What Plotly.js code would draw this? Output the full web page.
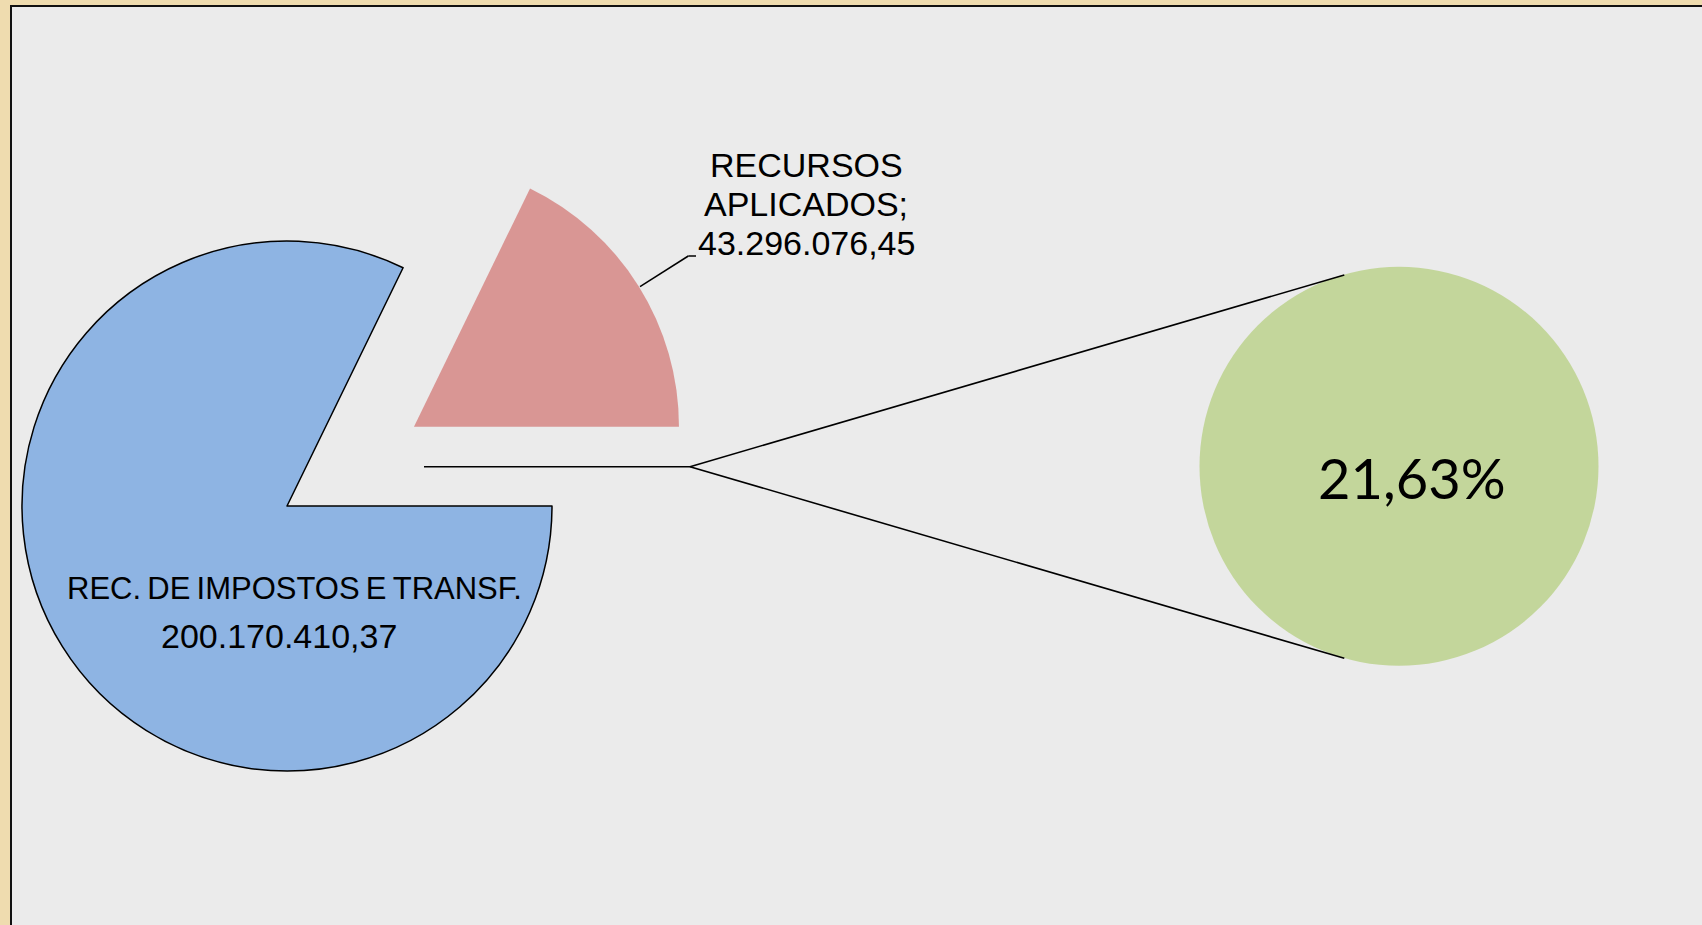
<!DOCTYPE html>
<html>
<head>
<meta charset="utf-8">
<script src="https://cdn.plot.ly/plotly-3.0.1.min.js"></script>
<style>
  html, body { margin: 0; padding: 0; width: 1702px; height: 925px; overflow: hidden; background: #efdcaf; }
  #frame {
    position: absolute; left: 10px; top: 5px; width: 1692px; height: 920px;
    border-left: 2px solid #111; border-top: 2px solid #111;
    background: #ebebeb; overflow: hidden; box-sizing: border-box;
  }
  #chart { position: absolute; left: -200px; top: 0; width: 1890px; height: 918px; }
</style>
</head>
<body>
<div id="frame"><div id="chart"></div></div>
<script>
// dados do gráfico
let categorias = ['REC. DE IMPOSTOS E TRANSF.', 'RECURSOS APLICADOS'];
let valores = [200170410.37, 43296076.45];
let valoresTexto = ['200.170.410,37', '43.296.076,45'];
let cores = ['#8eb4e3', '#d99694'];
let detalhe = [43296076.45];
let detalheTexto = ['21,63%'];

// conversão de pixels da página para coordenadas "paper"
let W = 1890, H = 918, offX = 12 - 200, offY = 7;
function px(x) { return (x - offX) / W; }
function py(y) { return 1 - (y - offY) / H; }

// pizza principal: centro (287, 506), raio 265, fatia puxada 0.565
let pull = 0.565;
let half = 265 * (1 + pull);
let cx = 287, cy = 506;

// pizza secundária
let gx = 1399, gy = 466.3, gr = 199.5;

let data = [{
    type: 'pie',
    labels: categorias,
    values: valores,
    sort: false,
    direction: 'counterclockwise',
    rotation: 90,
    pull: [0, pull],
    marker: {
        colors: cores,
        line: { color: ['#000000', 'rgba(0,0,0,0)'], width: [1.5, 0] }
    },
    textinfo: 'none',
    hoverinfo: 'none',
    domain: { x: [px(cx - half), px(cx + half)], y: [py(cy + half), py(cy - half)] }
}, {
    type: 'pie',
    labels: ['RECURSOS APLICADOS'],
    values: detalhe,
    sort: false,
    marker: { colors: ['#c3d69b'], line: { width: 0 } },
    textinfo: 'none',
    hoverinfo: 'none',
    domain: { x: [px(gx - gr), px(gx + gr)], y: [py(gy + gr), py(gy - gr)] }
}];

let fonte = { family: 'Liberation Sans, Arial, sans-serif', size: 34, color: '#000' };

function rotulo(texto, x, y, font) {
    return { xref: 'paper', yref: 'paper', x: px(x), y: py(y), xanchor: 'center', yanchor: 'middle',
             text: texto, showarrow: false, font: font || fonte };
}

let linha = { color: '#000', width: 1.6 };

let layout = {
    width: W,
    height: H,
    margin: { l: 0, r: 0, t: 0, b: 0 },
    paper_bgcolor: 'rgba(0,0,0,0)',
    plot_bgcolor: 'rgba(0,0,0,0)',
    showlegend: false,
    shapes: [
        // linhas de ligação entre as pizzas
        { type: 'line', xref: 'paper', yref: 'paper', x0: px(424), y0: py(466.7), x1: px(690), y1: py(466.7), line: linha },
        { type: 'line', xref: 'paper', yref: 'paper', x0: px(690), y0: py(466.7), x1: px(1344.3), y1: py(275), line: linha },
        { type: 'line', xref: 'paper', yref: 'paper', x0: px(690), y0: py(466.7), x1: px(1344.3), y1: py(658.3), line: linha },
        // linha guia do rótulo
        { type: 'line', xref: 'paper', yref: 'paper', x0: px(640), y0: py(286.7), x1: px(688.3), y1: py(256), line: { color: '#000', width: 1.5 } },
        { type: 'line', xref: 'paper', yref: 'paper', x0: px(688.3), y0: py(256), x1: px(696), y1: py(256), line: { color: '#000', width: 1.5 } }
    ],
    annotations: [
        rotulo('RECURSOS', 806, 165),
        rotulo('APLICADOS;', 806, 204),
        rotulo(valoresTexto[1], 806, 243),
        rotulo(categorias[0].split(' ').join('\u2009'), 294, 588.5,
               { family: 'Liberation Sans, Arial, sans-serif', size: 31, color: '#000' }),
        rotulo(valoresTexto[0], 279, 635.5),
        rotulo(detalheTexto[0], 1412, 478, { family: 'Lato, Carlito, Calibri, sans-serif', size: 56, color: '#000' })
    ]
};

Plotly.newPlot('chart', data, layout, { displayModeBar: false, staticPlot: true });
</script>
</body>
</html>
